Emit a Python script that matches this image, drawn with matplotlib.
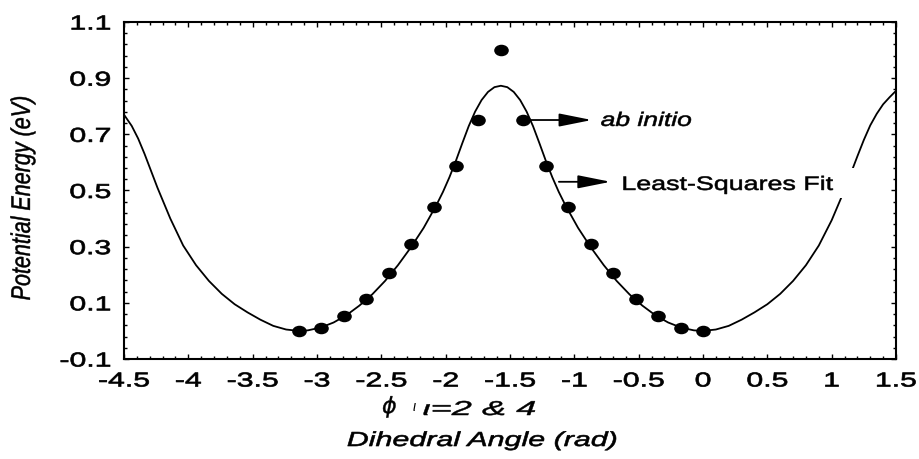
import matplotlib
matplotlib.use('Agg')
import matplotlib.pyplot as plt
from matplotlib.patheffects import AbstractPathEffect
from matplotlib.transforms import Affine2D
from matplotlib.markers import MarkerStyle
from matplotlib.patches import Rectangle

# ---------------- data ----------------
abinitio_x = [-3.14, -2.97, -2.79, -2.62, -2.44, -2.27, -2.09, -1.92, -1.75, -1.57,
              -1.40, -1.22, -1.05, -0.87, -0.70, -0.52, -0.35, -0.17, 0.0]
abinitio_y = [0.0, 0.012, 0.052, 0.115, 0.205, 0.31, 0.443, 0.587, 0.751, 1.0,
              0.751, 0.587, 0.443, 0.31, 0.205, 0.115, 0.052, 0.012, 0.0]

# least-squares fit curve
fit_x = [-4.5, -4.44, -4.39, -4.34, -4.24, -4.14, -4.04, -3.94, -3.84, -3.74,
         -3.64, -3.54, -3.44, -3.34, -3.24, -3.142,
         -3.071, -2.971, -2.871, -2.771, -2.671, -2.571, -2.471, -2.371, -2.271, -2.171,
         -2.071, -2.021, -1.971, -1.921, -1.871, -1.821, -1.771, -1.721, -1.671, -1.621,
         -1.571,
         -1.521, -1.471, -1.421, -1.371, -1.321, -1.271, -1.221, -1.171, -1.121, -1.071,
         -0.971, -0.871, -0.771, -0.671, -0.571, -0.471, -0.371, -0.271, -0.171, -0.071,
         0.0,
         0.1, 0.2, 0.3, 0.4, 0.5, 0.6, 0.7, 0.8, 0.9, 1.0,
         1.1, 1.2, 1.25, 1.3, 1.35, 1.4, 1.45, 1.5]
fit_y = [0.77, 0.73, 0.685, 0.63, 0.51, 0.40, 0.304, 0.234, 0.178, 0.132,
         0.095, 0.066, 0.040, 0.018, 0.005, 0.0,
         0.002, 0.012, 0.030, 0.056, 0.090, 0.130, 0.178, 0.234, 0.297, 0.367,
         0.449, 0.495, 0.547, 0.605, 0.668, 0.729, 0.781, 0.822, 0.851, 0.868,
         0.873,
         0.868, 0.851, 0.822, 0.781, 0.729, 0.668, 0.605, 0.547, 0.495, 0.449,
         0.367, 0.297, 0.234, 0.178, 0.130, 0.090, 0.056, 0.030, 0.012, 0.002,
         0.0,
         0.005, 0.018, 0.040, 0.066, 0.095, 0.132, 0.178, 0.234, 0.304, 0.394,
         0.502, 0.622, 0.68, 0.732, 0.773, 0.807, 0.832, 0.855]

xticks = [-4.5, -4, -3.5, -3, -2.5, -2, -1.5, -1, -0.5, 0, 0.5, 1, 1.5]
xticklabels = ['-4.5', '-4', '-3.5', '-3', '-2.5', '-2', '-1.5', '-1', '-0.5', '0', '0.5', '1', '1.5']
yticks = [-0.1, 0.1, 0.3, 0.5, 0.7, 0.9, 1.1]
yticklabels = ['-0.1', '0.1', '0.3', '0.5', '0.7', '0.9', '1.1']


class HStretch(AbstractPathEffect):
    """Widen (and slightly embolden) glyphs: the reference uses a wide, heavy font."""
    def __init__(self, sx, anchor='center', lw=0.4):
        super().__init__((0, 0))
        self._sx = sx
        self._anchor = anchor
        self._lw = lw

    def draw_path(self, renderer, gc, tpath, affine, rgbFace=None):
        ext = tpath.get_extents(affine)
        if self._anchor == 'left':
            x0 = ext.x0
        elif self._anchor == 'right':
            x0 = ext.x1
        else:
            x0 = 0.5 * (ext.x0 + ext.x1)
        t = affine + Affine2D().translate(-x0, 0).scale(self._sx, 1.0).translate(x0, 0)
        gc0 = renderer.new_gc()
        gc0.copy_properties(gc)
        gc0.set_linewidth(self._lw)
        if rgbFace is not None:
            gc0.set_foreground(rgbFace)
        gc0.set_joinstyle('round')
        renderer.draw_path(gc0, tpath, t, rgbFace)
        gc0.restore()


FONT = 'Liberation Sans'
W, H = 919, 459

fig = plt.figure(figsize=(W / 100, H / 100), dpi=100)
ax = fig.add_axes([124 / W, 1 - 359 / H, 772 / W, 337 / H])

ax.plot(fit_x, fit_y, color='black', lw=1.3, zorder=2, solid_joinstyle='round')
dot = MarkerStyle('o', transform=Affine2D().scale(1.3, 1.0))
ax.plot(abinitio_x, abinitio_y, linestyle='none', marker=dot, markersize=7.3,
        color='black', zorder=4)

ax.set_xlim(-4.5, 1.5)
ax.set_ylim(-0.1, 1.1)
ax.set_xticks(xticks)
ax.set_xticklabels(xticklabels)
ax.set_yticks(yticks)
ax.set_yticklabels(yticklabels)
ax.set_xticks([v / 10 for v in range(-45, 16)], minor=True)
ax.set_yticks([v / 100 for v in range(-10, 111, 4)], minor=True)
ax.tick_params(which='both', direction='in', top=True, right=True, width=1.0, color='black')
ax.tick_params(which='major', length=3.5)
ax.tick_params(which='minor', length=2.2)
ax.tick_params(axis='x', which='major', pad=9)
ax.tick_params(axis='y', which='major', pad=9.5)
for sp in ax.spines.values():
    sp.set_linewidth(1.5)

for lab in ax.get_xticklabels():
    lab.set_fontfamily(FONT)
    lab.set_fontsize(14.5)
    lab.set_path_effects([HStretch(1.5, 'center', 0.5)])
for lab in ax.get_yticklabels():
    lab.set_fontfamily(FONT)
    lab.set_fontsize(14.5)
    lab.set_path_effects([HStretch(1.5, 'right', 0.5)])

# white box behind the "Least-Squares Fit" label (it hides part of the curve)
ax.add_patch(Rectangle((-0.69, 0.473), 1.87, 0.107, facecolor='white',
                       edgecolor='none', zorder=3))

arrow_kw = dict(arrowstyle='-|>,head_length=1.0,head_width=0.2', color='black',
                lw=1.3, shrinkA=0, shrinkB=0, mutation_scale=20)
ax.annotate('', xy=(-0.864, 0.751), xytext=(-1.36, 0.751), arrowprops=arrow_kw, zorder=5)
ax.annotate('', xy=(-0.718, 0.531), xytext=(-1.12, 0.531), arrowprops=arrow_kw, zorder=5)

t1 = ax.text(-0.794, 0.730, 'ab initio', fontfamily=FONT, fontstyle='italic',
             fontsize=14, ha='left', va='baseline', zorder=6)
t1.set_path_effects([HStretch(1.36, 'left', 0.4)])
t2 = ax.text(-0.63, 0.502, 'Least-Squares Fit', fontfamily=FONT, fontsize=14,
             ha='left', va='baseline', zorder=6)
t2.set_path_effects([HStretch(1.38, 'left', 0.4)])

# axis labels
yl = fig.text(23 / W, 1 - 198 / H, 'Potential Energy (eV)', rotation=90, fontfamily=FONT,
              fontstyle='italic', fontsize=15.5, ha='center', va='center')
yl.set_path_effects([HStretch(1.25, 'center', 0.35)])
xl = fig.text(482 / W, 1 - 446 / H, 'Dihedral Angle (rad)', fontfamily=FONT,
              fontstyle='italic', fontsize=14.6, ha='center', va='baseline')
xl.set_path_effects([HStretch(1.5, 'center', 0.45)])

ph0 = fig.text(390 / W, 1 - 413 / H, r'$\phi$', fontsize=16, ha='center', va='baseline')
ph0.set_path_effects([HStretch(1.0, 'center', 0.3)])
fig.text(414 / W, 1 - 411 / H, 'ι', fontfamily=FONT, fontstyle='italic', fontsize=10,
         ha='center', va='baseline')
ph = fig.text(423 / W, 1 - 415 / H, 'ι=2 & 4', fontfamily=FONT, fontstyle='italic',
              fontsize=14.5, ha='left', va='baseline')
ph.set_path_effects([HStretch(1.8, 'left', 0.35)])

fig.savefig('out.png', dpi=100)
